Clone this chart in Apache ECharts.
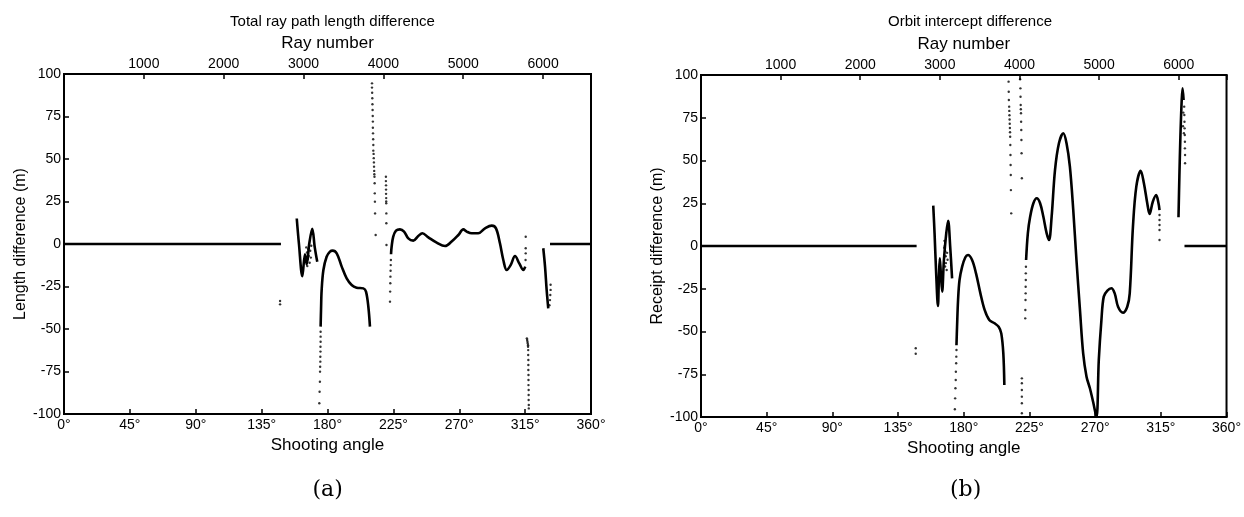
<!DOCTYPE html>
<html><head><meta charset="utf-8">
<script src="https://cdn.jsdelivr.net/npm/echarts@6/dist/echarts.min.js"></script>
<style>html,body{margin:0;padding:0;background:#fff}#c{width:1244px;height:517px}</style>
</head><body><div id="c"></div>
<script>
// ---------- tick labels / titles ----------
const angleTicks = [0,45,90,135,180,225,270,315,360];
const rayTicks = [1000,2000,3000,4000,5000,6000];
const yTicks = [-100,-75,-50,-25,0,25,50,75,100];
const titles = ['Total ray path length difference','Orbit intercept difference'];
const yNames = ['Length difference (m)','Receipt difference (m)'];
const subCaps = ['(a)','(b)'];

// ---------- panel (a): [shooting angle deg, length difference m] ----------
const aFlat1 = [[0,0],[148.2,0]];
const aFlat2 = [[332,0],[360,0]];
const aIso = [[147.6,-33.5],[147.6,-35.5]];
const aCurve1 = [[159,15],[160.5,0],[162.8,-19],[164.6,-6],[165.8,-12],[167.5,0],[169.6,9],[171.3,-2],[173,-10.5]];
const aDots1 = [[165.5,-2],[166,-5],[166.4,-9],[166.8,-3],[167.2,-7],[167.8,-11],[168.2,-4],[168.6,-8],[168.9,-1],[166.2,-13]];
const aDrop = [[174.4,-93.7],[174.6,-86.9],[174.8,-81],[174.9,-75.1],[175,-72.2],[175.1,-69.2],[175.1,-66.3],[175.2,-63.3],[175.2,-60.4],[175.3,-57.5],[175.3,-54.5],[175.3,-51.6]];
const aCurve2 = [[175.3,-48.6],[175.6,-38],[176,-27.1],[177.2,-15.3],[179.4,-7.5],[181.7,-4.5],[183.5,-3.9],[186.3,-5.5],[189.7,-13.3],[193.1,-20.2],[196.5,-24.1],[199.9,-25.7],[204.5,-26.1],[206.3,-28],[207.9,-36.9],[209,-48.6]];
const aDots210 = [[210.4,94.5],[210.4,92],[210.5,89],[210.6,85.7],[210.7,82.2],[210.8,78.8],[210.9,75.3],[211,72],[211,68.4],[211.1,65.1],[211.2,61.6],[211.3,58.2],[211.3,54.9],[211.5,53],[211.6,50.5],[211.7,48],[211.8,45.5],[211.9,43],[212,41],[212.1,39.6],[212.2,35.7],[212.3,29.8],[212.4,24.9],[212.5,18],[212.9,5.3]];
const aDots220 = [[219.9,39.6],[219.9,37],[220,34.5],[220,32],[220,29.5],[220.1,27],[220.1,25],[220.1,23.9],[220.2,18],[220.2,12.2],[220.3,-0.6]];
const aDots223 = [[222.7,-33.9],[222.8,-28],[222.9,-23.1],[223,-19.2],[223.1,-15.7],[223.2,-12.4],[223.3,-9.4]];
const aCurve3 = [[223.4,-6],[223.8,-1.6],[224.9,4.3],[226.8,7.8],[229.5,8.6],[232.3,7.3],[235.2,3.3],[238.6,2],[242,4.7],[244.8,6.3],[248.9,3.9],[254.6,0.8],[260.3,-1.2],[264.8,1.4],[269.4,5.3],[272.8,8.6],[275.1,7.3],[278.5,6.3],[283,6.3],[287.6,9.2],[292.2,10.8],[295.1,9.2],[297.8,0.4],[300.1,-9.4],[302.4,-15.3],[305.1,-12.4],[308.1,-7.1],[311,-11.4],[313.8,-15.3],[315.1,-13.3]];
const aDots315 = [[315.3,-9.4],[315.4,-5.5],[315.4,-2.5],[315.4,4.3]];
const aDots317 = [[316.2,-55.5],[316.4,-56.5],[316.6,-57.5],[316.8,-58.5],[317,-59.5],[317,-60.4],[317.1,-62.4],[317.1,-65.3],[317.2,-68.2],[317.2,-71.2],[317.2,-74.1],[317.3,-77.1],[317.3,-80],[317.3,-83],[317.4,-85.9],[317.4,-88.8],[317.4,-91.8],[317.5,-94.7],[317.5,-96.7]];
const aCurve4 = [[327.4,-2.5],[328.6,-13.3],[329.7,-27],[330.8,-37.8]];
const aDots331 = [[331.6,-36],[332,-33],[332.2,-30],[332.4,-27],[332.4,-24]];

// ---------- panel (b): [shooting angle deg, receipt difference m] ----------
const bFlat1 = [[0,0],[147.7,0]];
const bFlat2 = [[331.2,0],[360,0]];
const bIso = [[147.1,-59.8],[147.1,-63]];
const bCurve1 = [[159.1,23.6],[160,7.4],[161.1,-16],[162.3,-35.1],[163,-17.9],[163.6,-7.2],[164.3,-16],[165.2,-26.7],[166.4,-8.2],[168,7.4],[169.3,14.8],[170.7,-0.4],[172,-18.9]];
const bDots1 = [[166.8,3],[167,0],[167.3,-3],[167.6,-6],[167.8,-10],[168.3,-14],[168.6,-4],[168.9,-8],[167.2,-12],[166.6,-1]];
const bDrop = [[173.9,-95.5],[174.1,-89.1],[174.3,-83.2],[174.5,-78.4],[174.6,-73.5],[174.8,-68.6],[174.9,-64.7],[175,-60.8]];
const bCurve2 = [[175,-58],[175.4,-47.2],[176.1,-31.6],[177.1,-19.9],[178.9,-12.1],[181.1,-6.6],[182.9,-5.3],[185.7,-8.2],[188.4,-16],[191.4,-27.7],[194.3,-37.4],[197.5,-43.3],[201.1,-45.2],[203.9,-47.2],[205.7,-51.1],[207.1,-62.8],[207.8,-81.3]];
const bDots211 = [[210.7,96.1],[210.8,90.2],[210.9,85.4],[211.1,81.5],[211.2,79],[211.3,76.5],[211.4,74],[211.5,71.5],[211.6,69],[211.7,66.5],[211.8,63.9],[211.9,59.1],[212,53.2],[212.1,47.4],[212.2,41.5],[212.3,32.7],[212.5,19.1]];
const bDots219 = [[218.6,97.5],[218.8,92.2],[218.9,87.3],[219,82.5],[219.1,80],[219.2,77.6],[219.3,72.7],[219.4,67.8],[219.5,62],[219.6,54.2],[219.8,39.6]];
const bDots219b = [[219.8,-77.4],[219.8,-80.3],[219.8,-84.2],[219.8,-88.1],[219.8,-92],[219.8,-97.8]];
const bDots222 = [[222.1,-42.3],[222.2,-37.4],[222.3,-31.6],[222.4,-27.7],[222.4,-23.8],[222.5,-19.9],[222.5,-16],[222.6,-12.1]];
const bCurve3 = [[222.7,-8.2],[223.9,7.4],[225.5,17.2],[227.7,25],[230,27.9],[232.3,25],[234.5,17.2],[236.8,7.4],[238.4,3.5],[240.2,17.2],[242.5,44.4],[245.2,60.1],[248.2,65.9],[250.4,60.1],[252.7,46.4],[255,21.1],[257.2,-8.2],[259.6,-37.4],[261.8,-62.8],[264.1,-76.4],[266.4,-83.2],[268.6,-91.1],[270.9,-100],[272.5,-66.7],[274.3,-43.3],[275.9,-29.6],[278.4,-26.1],[281.1,-24.7],[283.4,-27.7],[285.7,-35.5],[289.1,-39],[292,-35.5],[293.7,-27.7],[295.9,11.3],[298.2,34.7],[301.2,44],[303.4,36.7],[305.7,25],[307.3,18.7],[309.5,25.9],[311.8,29.8],[313.4,25],[314.1,21]];
const bDots314 = [[314.1,18.1],[314.1,15.2],[314.1,12.3],[314.1,9.4],[314.1,3.5]];
const bCurve4 = [[327.1,16.8],[327.7,40.5],[328.4,63.9],[329.3,85.4],[329.9,92.2],[330.6,85.4]];
const bDots331 = [[331,81.5],[331.1,76.6],[331.2,72.7],[331.3,68.8],[331.4,64.9],[331.5,61],[331.5,57.1],[331.6,53.2],[331.6,48.4],[330.4,78],[330.2,70],[330.8,66]];

const panelA = {lines:[aFlat1,aFlat2,aCurve1,aCurve2,aCurve3,aCurve4], dots:[aIso,aDots1,aDrop,aDots210,aDots220,aDots223,aDots315,aDots317,aDots331]};
const panelB = {lines:[bFlat1,bFlat2,bCurve1,bCurve2,bCurve3,bCurve4], dots:[bIso,bDots1,bDrop,bDots211,bDots219,bDots219b,bDots222,bDots314,bDots331]};

// ---------- build ----------
const FONT = 'Liberation Sans, Arial, sans-serif';
const grids = [
  {left:64, top:74, width:527, height:340},
  {left:701, top:75, width:528, height:342}
];
const chart = echarts.init(document.getElementById('c'), null, {renderer:'canvas'});
const xAxes = [], yAxes = [], series = [], titleArr = [], graphics = [];
grids.forEach((g,i)=>{
  g.show = true; g.borderColor = '#000'; g.borderWidth = 2; g.containLabel = false;
  xAxes.push({
    type:'value', gridIndex:i, position:'bottom', min:angleTicks[0], max:angleTicks[angleTicks.length-1], interval:45,
    name:'Shooting angle', nameLocation:'middle', nameGap:21,
    nameTextStyle:{fontFamily:FONT, fontSize:17, color:'#000'},
    axisLine:{show:true, onZero:false, lineStyle:{color:'#000', width:2}},
    axisTick:{inside:true, length:5, lineStyle:{color:'#000', width:1.5}},
    axisLabel:{fontFamily:FONT, fontSize:14, color:'#000', margin:4, formatter:v=>v+'°'},
    splitLine:{show:false}
  });
  xAxes.push({
    type:'value', gridIndex:i, position:'top', min:0, max:6600, interval:1000,
    name:'Ray number', nameLocation:'middle', nameGap:22,
    nameTextStyle:{fontFamily:FONT, fontSize:17, color:'#000'},
    axisLine:{show:true, onZero:false, lineStyle:{color:'#000', width:2}},
    axisTick:{inside:true, length:5, lineStyle:{color:'#000', width:1.5}},
    axisLabel:{fontFamily:FONT, fontSize:14, color:'#000', margin:3, formatter:v=>rayTicks.indexOf(v)>=0 ? String(v) : ''},
    splitLine:{show:false}
  });
  yAxes.push({
    type:'value', gridIndex:i, min:yTicks[0], max:yTicks[yTicks.length-1], interval:25,
    name:yNames[i], nameLocation:'middle', nameGap:34,
    nameTextStyle:{fontFamily:FONT, fontSize:16, color:'#000'},
    axisLine:{show:true, onZero:false, lineStyle:{color:'#000', width:2}},
    axisTick:{inside:true, length:5, lineStyle:{color:'#000', width:1.5}},
    axisLabel:{fontFamily:FONT, fontSize:14, color:'#000', margin:3},
    splitLine:{show:false}
  });
  titleArr.push({text:titles[i], left:g.left+g.width/2, top:9, textAlign:'center',
    textStyle:{fontFamily:FONT, fontSize:15, fontWeight:'normal', color:'#000'}});
  graphics.push({type:'text', left:g.left+g.width/2-15, top:479,
    style:{text:subCaps[i], font:'22px "DejaVu Serif", "Liberation Serif", serif', fill:'#000'}});
  const p = i===0 ? panelA : panelB;
  p.lines.forEach(d=>series.push({type:'line', xAxisIndex:i*2, yAxisIndex:i, data:d, showSymbol:false, symbol:'none',
    smooth:0.35, lineStyle:{color:'#000', width:2.6}, silent:true, animation:false}));
  p.dots.forEach(d=>series.push({type:'scatter', xAxisIndex:i*2, yAxisIndex:i, data:d, symbol:'circle', symbolSize:2.4,
    itemStyle:{color:'#000'}, silent:true, animation:false}));
});
chart.setOption({backgroundColor:'#fff', animation:false, title:titleArr, grid:grids, xAxis:xAxes, yAxis:yAxes, series:series, graphic:graphics});
</script></body></html>
